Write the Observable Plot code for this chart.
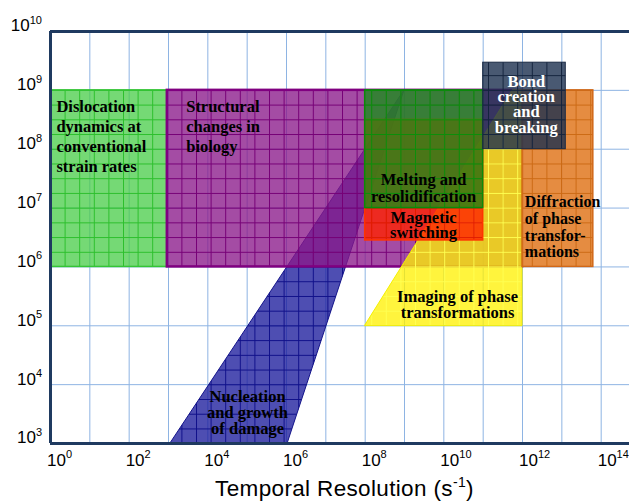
<!DOCTYPE html>
<html><head><meta charset="utf-8">
<script src="https://cdn.jsdelivr.net/npm/d3@7"></script>
<script src="https://cdn.jsdelivr.net/npm/@observablehq/plot@0.6"></script>
<style>body{margin:0;background:#fff}</style>
</head><body><div id="chart"></div>
<script>
// ---- data (exponents of 10) ----
const xTickExponents = [0, 2, 4, 6, 8, 10, 12, 14];
const xGridExponents = [1, 2, 3, 4, 5, 6, 7, 8, 9, 10, 11, 12, 13, 14];
const yTickExponents = [3, 4, 5, 6, 7, 8, 9, 10];
const yGridExponents = [4, 5, 6, 7, 8, 9];

// rectangular regions: temporal (x) and spatial (y) ranges, log10
const rectNames = ["dislocation", "structural", "diffraction", "magnetic", "melting", "bond"];
const rectXMin = [0, 2.97, 12, 8, 8, 11];
const rectXMax = [2.97, 12, 13.8, 11, 11, 13.1];
const rectYMin = [6, 6, 6, 6.45, 7, 8];
const rectYMax = [9, 9, 9, 8.5, 9, 9.47];

// slanted regions: edges at two y levels, log10
const polyNames = ["nucleation", "imaging"];
const polyYLow = [3, 5];
const polyYHigh = [9, 9];
const polyXLeftLow = [3.05, 8];
const polyXRightLow = [6.03, 12];
const polyXLeftHigh = [9.0, 11.75];
const polyXRightHigh = [9.0, 12];

// labels
const labelNames = ["dislocation", "structural", "melting", "magnetic", "bond", "diffraction", "imaging", "nucleation"];
const labelTexts = [
  "Dislocation\ndynamics at\nconventional\nstrain rates",
  "Structural\nchanges in\nbiology",
  "Melting and\nresolidification",
  "Magnetic\nswitching",
  "Bond\ncreation\nand\nbreaking",
  "Diffraction\nof phase\ntransfor-\nmations",
  "Imaging of phase\ntransformations",
  "Nucleation\nand growth\nof damage"
];
const labelX = [0.15, 3.45, 9.484, 9.484, 12.095, 12.06, 10.35, 5.009];
const labelY = [8.234, 8.404, 7.343, 6.706, 8.752, 6.681, 5.348, 3.514];

const axisTitle = "Temporal Resolution (s^{-1})";

// ---- styles ----
const styles = {
  dislocation: {fill: "#47cc47", op: 0.75, grid: "#2cbf2c", stroke: "#35c435", sw: 1.5},
  nucleation:  {fill: "#1c1c9c", op: 0.78, grid: "#10108a", stroke: "#14148a", sw: 1},
  structural:  {fill: "#8a1a8a", op: 0.78, grid: "#760076", stroke: "#800080", sw: 2.5},
  imaging:     {fill: "#fff000", op: 0.76, grid: "#ffff50", stroke: "#f4f000", sw: 1},
  diffraction: {fill: "#e07820", op: 0.85, grid: "#cc6a14", stroke: "#d06818", sw: 1.5},
  magnetic:    {fill: "#ff2200", op: 0.8,  grid: "#e01c00", stroke: "#ff3300", sw: 1.5},
  melting:     {fill: "#168e16", op: 0.76, grid: "#0a8f0a", stroke: "#0a8a0a", sw: 1.5},
  bond:        {fill: "#1c2f4f", op: 0.8,  grid: "#14243e", stroke: "#1a2a44", sw: 1}
};
const labelStyle = {
  dislocation: {anchor: "start", lh: 1.21, color: "#000", size: 16.5},
  structural:  {anchor: "start", lh: 1.21, color: "#000", size: 16.5},
  melting:     {anchor: "middle", lh: 1.03, color: "#000", size: 16.5},
  magnetic:    {anchor: "middle", lh: 0.9, color: "#000", size: 16.5},
  bond:        {anchor: "middle", lh: 0.92, color: "#fff", size: 16.5},
  diffraction: {anchor: "start", lh: 1.05, color: "#000", size: 16},
  imaging:     {anchor: "middle", lh: 0.97, color: "#000", size: 16.5},
  nucleation:  {anchor: "middle", lh: 0.97, color: "#000", size: 16.5}
};
const drawOrder = ["dislocation", "nucleation", "structural", "imaging", "diffraction", "magnetic", "melting", "bond"];

const p10 = e => Math.pow(10, e);

function rectMarks(name) {
  const i = rectNames.indexOf(name);
  const d = [{x1: p10(rectXMin[i]), x2: p10(rectXMax[i]), y1: p10(rectYMin[i]), y2: p10(rectYMax[i])}];
  const s = styles[name];
  const ch = {x1: "x1", x2: "x2", y1: "y1", y2: "y2"};
  return [
    Plot.rect(d, {...ch, fill: s.fill, fillOpacity: s.op}),
    Plot.rect(d, {...ch, fill: `url(#pat-${name})`}),
    Plot.rect(d, {...ch, fill: "none", stroke: s.stroke, strokeWidth: s.sw})
  ];
}
function polyMarks(name) {
  const i = polyNames.indexOf(name);
  const d = [
    {y: p10(polyYLow[i]), x1: p10(polyXLeftLow[i]), x2: p10(polyXRightLow[i])},
    {y: p10(polyYHigh[i]), x1: p10(polyXLeftHigh[i]), x2: p10(polyXRightHigh[i])}
  ];
  const s = styles[name];
  const ch = {y: "y", x1: "x1", x2: "x2", curve: "linear"};
  return [
    Plot.areaX(d, {...ch, fill: s.fill, fillOpacity: s.op}),
    Plot.areaX(d, {...ch, fill: `url(#pat-${name})`}),
    Plot.areaX(d, {...ch, fill: "none", stroke: s.stroke, strokeWidth: s.sw})
  ];
}

const shapeMarks = drawOrder.flatMap(n => rectNames.includes(n) ? rectMarks(n) : polyMarks(n));

const labelMarks = labelNames.map((n, i) => Plot.text([labelTexts[i]], {
  x: () => p10(labelX[i]), y: () => p10(labelY[i]), text: d => d,
  textAnchor: labelStyle[n].anchor, lineAnchor: "middle", lineHeight: labelStyle[n].lh,
  fontFamily: "Liberation Serif", fontWeight: "bold", fontSize: labelStyle[n].size, fill: labelStyle[n].color
}));

const expFmt = d => `10^{${Math.round(Math.log10(d))}}`;
const frameColor = "#1f3a60";
const gridColor = "#8eb4e3";

const svg = Plot.plot({
  width: 629, height: 504,
  marginLeft: 50, marginRight: 0, marginTop: 31, marginBottom: 61,
  style: {fontFamily: "Liberation Sans", fontSize: "16px", background: "#fff", overflow: "visible"},
  x: {type: "log", domain: [1, p10(14.72)]},
  y: {type: "log", domain: [1e3, 1e10]},
  marks: [
    Plot.ruleX(xGridExponents.map(p10), {stroke: gridColor, strokeWidth: 1}),
    Plot.ruleY(yGridExponents.map(p10), {stroke: gridColor, strokeWidth: 1}),
    ...shapeMarks,
    Plot.ruleX([1], {stroke: frameColor, strokeWidth: 3}),
    Plot.ruleY([1e3, 1e10], {stroke: frameColor, strokeWidth: 3}),
    Plot.axisX(xTickExponents.map(p10), {tickFormat: expFmt, tickSize: 0, tickPadding: 10, textAnchor: "start", dx: -3.5, fontSize: 17, label: null}),
    Plot.axisY(yTickExponents.map(p10), {tickFormat: expFmt, tickSize: 0, tickPadding: 8.5, dy: -5.5, fontSize: 17, label: null}),
    ...labelMarks,
    Plot.text([axisTitle], {frameAnchor: "bottom", dx: 4.5, dy: 52, fontSize: 22.5, text: d => d, fill: "#000", ariaLabel: "axis-title"})
  ]
});

// grid-pattern textures for the regions
const defs = d3.select(svg).insert("defs", ":first-child");
for (const [name, s] of Object.entries(styles)) {
  const pat = defs.append("pattern").attr("id", `pat-${name}`).attr("patternUnits", "userSpaceOnUse")
    .attr("x", 50).attr("y", 31).attr("width", 14.6).attr("height", 14.72);
  pat.append("path").attr("d", "M0,0.5H14.6M0.5,0V14.72").attr("fill", "none")
    .attr("stroke", s.grid).attr("stroke-width", 1);
}

// superscripts
d3.select(svg).selectAll("text").each(function() {
  if (this.querySelector("tspan")) return;
  const s = this.textContent;
  const m = s.match(/^(.*?)\^\{(.*?)\}(.*)$/);
  if (!m) return;
  const isTick = m[1] === "10";
  const size = isTick ? 11 : 14, shift = isTick ? 7.5 : 9;
  const sel = d3.select(this);
  sel.text(null);
  if (!isTick) sel.attr("letter-spacing", 0.35);
  sel.append("tspan").text(m[1]);
  sel.append("tspan").attr("font-size", size).attr("dy", -shift).text(m[2]);
  if (m[3]) sel.append("tspan").attr("dy", shift).text(m[3]);
});

document.getElementById("chart").appendChild(svg);
</script>
</body></html>
